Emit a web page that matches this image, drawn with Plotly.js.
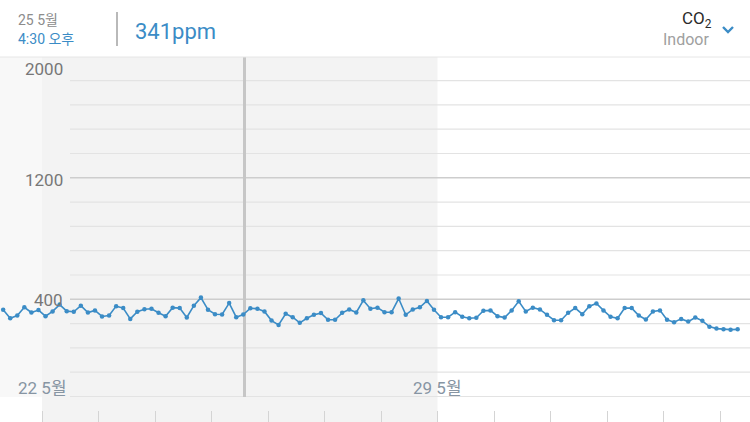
<!DOCTYPE html>
<html>
<head>
<meta charset="utf-8">
<script src="https://cdn.plot.ly/plotly-3.0.1.min.js"></script>
<style>
  html, body { margin: 0; padding: 0; background: #ffffff; }
  #chart { width: 750px; height: 422px; }
</style>
</head>
<body>
<div id="chart"></div>
<script>
// ---- data ----
const startTime = '2024-05-21 07:30';   // first reading
const stepHours = 3;                    // one reading every 3 hours
const co2Values = [
  331,275,293,347,313,329,289,320,365,322,318,358,313,327,287,293,355,342,271,318,335,338,311,289,345,342,280,358,411,331,302,300,375,282,300,341,
  338,320,260,231,305,282,245,275,298,309,265,265,311,333,313,393,338,345,315,315,405,298,333,347,389,331,282,282,315,285,275,278,325,327,289,
  280,327,387,320,345,333,298,262,262,311,342,302,355,373,327,285,275,342,342,293,267,320,327,265,249,271,253,280,258,220,207,202,200,202
];
const yTickValues = [400, 1200, 2000];
const yTickLabels = ['400', '1200', '2000'];
const gridValues = [1840, 1680, 1520, 1360, 1200, 1040, 880, 720, 560, 400, 240, 80, -80, -240];
const majorGrid = [1200, 400];
const weekDates = ['2024-05-22', '2024-05-29'];
const weekLabels = ['22 5월', '29 5월'];
const headerDate = '25 5월';
const headerTime = '4:30 오후';
const headerValue = '341ppm';
const headerSensor = 'CO<sub>2</sub>';
const headerPlace = 'Indoor';

// ---- helpers ----
const W = 750, H = 422, T = 57, B = 12;
const plotH = H - T - B;
const px = x => x / W;
const py = y => (H - B - y) / plotH;
const DAY = 86400000;
function fmt(ms) { return new Date(ms).toISOString().replace('T', ' ').replace('Z', ''); }
function parseT(s) { const [d, t] = s.split(' '); const [Y, M, D] = d.split('-').map(Number); const [h, m] = (t || '00:00').split(':').map(Number); return Date.UTC(Y, M - 1, D, h, m); }

const t0 = parseT(startTime);
const times = co2Values.map((_, i) => fmt(t0 + i * stepHours * 3600000));

const pxPerDay = 56.5;
const anchorMs = parseT('2024-05-22 00:00');
const xLeft = anchorMs - (42 / pxPerDay) * DAY;
const xRight = xLeft + (W / pxPerDay) * DAY;

const blue = '#3b8cc6';
const font = "Roboto, 'Noto Sans CJK KR', sans-serif";

const shapes = [];
// background bands
shapes.push({type: 'rect', xref: 'paper', yref: 'paper', x0: 0, x1: px(42), y0: py(397), y1: 1, fillcolor: '#f8f8f8', line: {width: 0}, layer: 'below'});
shapes.push({type: 'rect', xref: 'paper', yref: 'paper', x0: px(42), x1: px(437.5), y0: py(422), y1: 1, fillcolor: '#f3f3f3', line: {width: 0}, layer: 'below'});
// gridlines
gridValues.forEach(v => {
  const major = majorGrid.includes(v);
  shapes.push({type: 'line', xref: 'paper', yref: 'y', x0: px(70), x1: 1, y0: v, y1: v,
    line: {color: major ? '#cdcdcd' : '#e3e3e3', width: major ? 1.6 : 1.2}, layer: 'below'});
});
// cursor
shapes.push({type: 'line', xref: 'paper', yref: 'paper', x0: px(244.5), x1: px(244.5), y0: py(397), y1: 1,
  line: {color: '#c6c6c6', width: 3}, layer: 'below'});
// header divider and bottom border
shapes.push({type: 'line', xref: 'paper', yref: 'paper', x0: px(117), x1: px(117), y0: py(12), y1: py(46), line: {color: '#a8a8a8', width: 1.6}});
shapes.push({type: 'line', xref: 'paper', yref: 'paper', x0: 0, x1: 1, y0: py(57), y1: py(57), line: {color: '#e6e6e6', width: 1}});
// chevron
shapes.push({type: 'path', xref: 'paper', yref: 'paper',
  path: `M ${px(723)} ${py(27)} L ${px(728)} ${py(32)} L ${px(733)} ${py(27)}`,
  line: {color: blue, width: 2.4}});

const annotations = [];
const yLabelPos = {'2000': 69, '1200': 180, '400': 300};
yTickLabels.forEach(l => {
  annotations.push({text: l, xref: 'paper', yref: 'paper', x: px(65), y: py(yLabelPos[l]), xanchor: 'right', yanchor: 'middle',
    showarrow: false, font: {family: font, size: 17, color: '#777777'}});
});
weekDates.forEach((d, i) => {
  annotations.push({text: weekLabels[i], xref: 'x', yref: 'paper', x: d, y: py(388), xanchor: 'center', yanchor: 'middle',
    showarrow: false, font: {family: font, size: 17, color: '#8795a3'}});
});
annotations.push({text: headerDate, xref: 'paper', yref: 'paper', x: px(16), y: py(20), xanchor: 'left', yanchor: 'middle', showarrow: false, font: {family: font, size: 14, color: '#8c8c8c'}});
annotations.push({text: headerTime, xref: 'paper', yref: 'paper', x: px(16), y: py(39), xanchor: 'left', yanchor: 'middle', showarrow: false, font: {family: font, size: 14, color: blue}});
annotations.push({text: headerValue, xref: 'paper', yref: 'paper', x: px(133), y: py(31), xanchor: 'left', yanchor: 'middle', showarrow: false, font: {family: font, size: 22, color: blue}});
annotations.push({text: headerSensor, xref: 'paper', yref: 'paper', x: px(714), y: py(19), xanchor: 'right', yanchor: 'middle', showarrow: false, font: {family: font, size: 17, color: '#2a2a2a'}});
annotations.push({text: headerPlace, xref: 'paper', yref: 'paper', x: px(711), y: py(39), xanchor: 'right', yanchor: 'middle', showarrow: false, font: {family: font, size: 16, color: '#a0a0a0'}});

const trace = {
  x: times, y: co2Values, type: 'scatter', mode: 'lines+markers',
  line: {color: blue, width: 1.6},
  marker: {color: blue, size: 4.5},
  cliponaxis: false, hoverinfo: 'skip'
};

const layout = {
  width: W, height: H,
  margin: {l: 0, r: 0, t: T, b: B, pad: 0},
  paper_bgcolor: '#ffffff', plot_bgcolor: 'rgba(0,0,0,0)',
  showlegend: false,
  xaxis: {type: 'date', range: [fmt(xLeft), fmt(xRight)], showgrid: false, zeroline: false, showline: false,
    showticklabels: false, ticks: 'outside', ticklen: 12, tickwidth: 1, tickcolor: '#d4d4d4',
    tick0: '2024-05-22', dtick: DAY, fixedrange: true},
  yaxis: {range: [-328.9, 1995.3], showgrid: false, zeroline: false, showline: false, showticklabels: false,
    ticks: '', fixedrange: true},
  shapes: shapes,
  annotations: annotations
};

Plotly.newPlot('chart', [trace], layout, {staticPlot: true, displayModeBar: false});
</script>
</body>
</html>
